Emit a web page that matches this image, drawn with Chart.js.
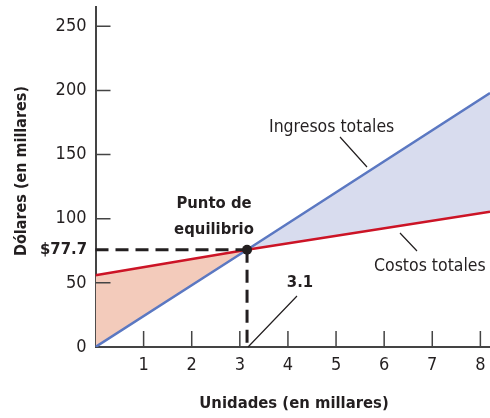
<!DOCTYPE html>
<html lang="es">
<head>
    <meta charset="UTF-8">
    <title>Punto de equilibrio</title>
    <script src="https://cdn.jsdelivr.net/npm/chart.js"></script>
    <style>
        body { margin: 0; background: #fff; }
        #wrap { width: 490px; height: 418px; position: relative; }
    </style>
</head>
<body>
    <div id="wrap"><canvas id="chart"></canvas></div>
    <script>
        // Datos (unidades en millares, dólares en millares)
        const unidades = [0, 3.15, 8.2];
        const ingresos = [0, 75.8, 198];
        const costos = [56, 75.8, 105.5];
        const equilibrio = { x: 3.15, y: 75.8 };
        const xTicks = [1, 2, 3, 4, 5, 6, 7, 8];
        const yTicks = [0, 50, 100, 150, 200, 250];

        const narrow = '"Liberation Sans Narrow", "DejaVu Sans Condensed", Arial, sans-serif';
        const ink = '#231f20';

        function pts(ys) {
            return unidades.map((x, i) => ({ x: x, y: ys[i] }));
        }

        // Marcas de los ejes, líneas punteadas y textos
        const anotaciones = {
            id: 'anotaciones',
            afterDatasetsDraw(chart) {
                const ctx = chart.ctx;
                const xs = chart.scales.x, ys = chart.scales.y;
                const x0 = xs.getPixelForValue(0), y0 = ys.getPixelForValue(0);
                ctx.save();

                // ticks hacia adentro
                ctx.strokeStyle = '#444';
                ctx.lineWidth = 1.5;
                ctx.beginPath();
                xTicks.forEach(v => {
                    const px = xs.getPixelForValue(v);
                    ctx.moveTo(px, y0); ctx.lineTo(px, y0 - 16);
                });
                yTicks.forEach(v => {
                    if (v === 0) return;
                    const py = ys.getPixelForValue(v);
                    ctx.moveTo(x0, py); ctx.lineTo(x0 + 15, py);
                });
                ctx.stroke();

                // líneas punteadas del punto de equilibrio
                const ex = xs.getPixelForValue(equilibrio.x);
                const ey = ys.getPixelForValue(equilibrio.y);
                ctx.strokeStyle = ink;
                ctx.lineWidth = 3;
                ctx.setLineDash([13, 7]);
                ctx.beginPath();
                ctx.moveTo(x0, ey); ctx.lineTo(ex, ey);
                ctx.moveTo(ex, ey); ctx.lineTo(ex, y0);
                ctx.stroke();
                ctx.setLineDash([]);

                // punto
                ctx.fillStyle = ink;
                ctx.beginPath();
                ctx.arc(ex, ey, 5, 0, Math.PI * 2);
                ctx.fill();

                // líneas guía de etiquetas
                ctx.lineWidth = 1.2;
                ctx.beginPath();
                ctx.moveTo(297, 296); ctx.lineTo(ex + 1, y0);
                ctx.moveTo(340, 137); ctx.lineTo(367, 167);
                ctx.moveTo(400, 233); ctx.lineTo(417, 251);
                ctx.stroke();

                // textos
                ctx.fillStyle = ink;
                ctx.textBaseline = 'middle';
                ctx.font = '17.5px ' + narrow;
                ctx.textAlign = 'left';
                ctx.fillText('Ingresos totales', 269, 127);
                ctx.fillText('Costos totales', 374, 266);

                ctx.font = 'bold 16.5px ' + narrow;
                ctx.textAlign = 'center';
                ctx.fillText('Punto de', 214, 204);
                ctx.fillText('equilibrio', 214, 230);
                ctx.fillText('3.1', 300, 283);
                ctx.fillText('Unidades (en millares)', 294, 404);
                ctx.textAlign = 'right';
                ctx.fillText('$77.7', 87, ey);

                ctx.translate(22, 171);
                ctx.rotate(-Math.PI / 2);
                ctx.textAlign = 'center';
                ctx.font = 'bold 16px ' + narrow;
                ctx.fillText('Dólares (en millares)', 0, 0);
                ctx.restore();
            }
        };

        new Chart(document.getElementById('chart'), {
            type: 'line',
            data: {
                datasets: [
                    {
                        label: 'Ingresos totales',
                        data: pts(ingresos),
                        borderColor: '#5b78c2',
                        borderWidth: 2.5,
                        pointRadius: 0,
                        fill: { target: 1, above: '#d8dcee', below: '#f3cbbb' },
                        order: 1
                    },
                    {
                        label: 'Costos totales',
                        data: pts(costos),
                        borderColor: '#cc1426',
                        borderWidth: 2.5,
                        pointRadius: 0,
                        fill: false,
                        order: 0
                    }
                ]
            },
            options: {
                responsive: true,
                maintainAspectRatio: false,
                animation: false,
                events: [],
                layout: { padding: { top: 7, right: 0, left: 0, bottom: 0 } },
                plugins: { legend: { display: false }, tooltip: { enabled: false } },
                scales: {
                    x: {
                        type: 'linear',
                        min: 0,
                        max: 8.2,
                        afterFit: s => {
                            s.height = 71;
                            s.paddingLeft = 0; s.paddingRight = 0;
                        },
                        grid: { display: false, drawTicks: false },
                        border: { display: true, color: '#444', width: 2 },
                        ticks: {
                            stepSize: 1,
                            includeBounds: false,
                            padding: 8,
                            color: ink,
                            font: { family: narrow, size: 18 },
                            maxRotation: 0,
                            callback: v => (xTicks.includes(v) ? v : '')
                        }
                    },
                    y: {
                        min: 0,
                        max: 265,
                        afterFit: s => {
                            s.width = 95.5;
                            s.paddingTop = 0; s.paddingBottom = 0;
                        },
                        grid: { display: false, drawTicks: false },
                        border: { display: true, color: '#444', width: 2 },
                        ticks: {
                            stepSize: 50,
                            includeBounds: false,
                            padding: 9,
                            color: ink,
                            font: { family: narrow, size: 18 },
                            callback: v => (yTicks.includes(v) ? v : '')
                        }
                    }
                }
            },
            plugins: [anotaciones]
        });
    </script>
</body>
</html>
